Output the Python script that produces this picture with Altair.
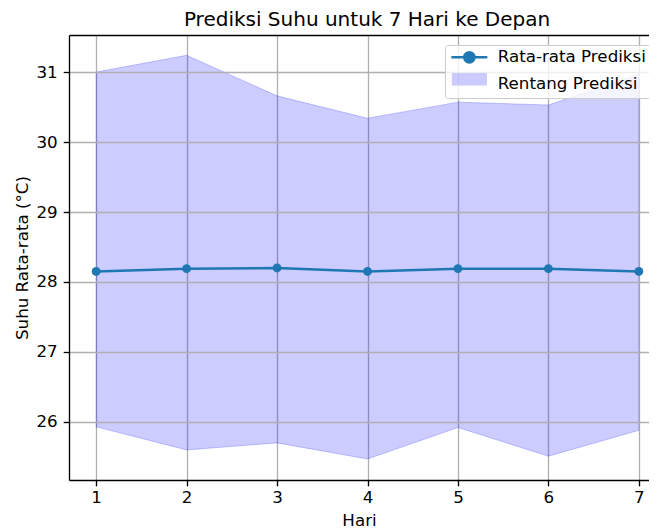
import altair as alt
import pandas as pd

hari = [1, 2, 3, 4, 5, 6, 7]
rata_rata = [28.15, 28.19, 28.20, 28.15, 28.19, 28.19, 28.15]
batas_atas = [31.00, 31.24, 30.66, 30.34, 30.57, 30.53, 30.97]
batas_bawah = [25.93, 25.60, 25.70, 25.47, 25.92, 25.51, 25.88]
nama_seri = ["Rata-rata Prediksi", "Rentang Prediksi"]

df = pd.DataFrame({"Hari": hari, "Rata": rata_rata, "Atas": batas_atas, "Bawah": batas_bawah})
df["Seri_line"] = nama_seri[0]
df["Seri_area"] = nama_seri[1]

FONT = "DejaVu Sans"
FS = 16.7
xscale = alt.Scale(domain=[0.7, 7.112], nice=False, zero=False)
yscale = alt.Scale(domain=[25.17, 31.53], nice=False, zero=False)
# line legend lists both entries (second symbol hidden in white); area legend overlays its patch
cscale = alt.Scale(domain=nama_seri, range=["#1f77b4", "#ffffff"])
fscale = alt.Scale(domain=[nama_seri[1]], range=["#0000ff"])

line_path = "M-3,0L3,0M0.85,0A0.85,0.85 0 1,1 -0.85,0A0.85,0.85 0 1,1 0.85,0Z"
rect_path = "M-2.85,-0.95L2.85,-0.95L2.85,0.95L-2.85,0.95Z"

common = dict(
    title=None, orient="none", legendX=376,
    labelFont=FONT, labelFontSize=FS, labelColor="#000000",
    symbolSize=144, symbolOffset=12, labelOffset=20, rowPadding=5.3, padding=4,
)

legend_line = alt.Legend(
    legendY=10, fillColor="rgba(255,255,255,0.8)", strokeColor="#cccccc", cornerRadius=3,
    symbolType=line_path, symbolFillColor="#1f77b4", symbolStrokeWidth=2.5, symbolOpacity=1,
    values=nama_seri, zindex=2, **common,
)
legend_area = alt.Legend(
    legendY=32, symbolType=rect_path, symbolStrokeColor="#0000ff", symbolStrokeWidth=1,
    symbolOpacity=0.2, labelExpr="''", zindex=3, **common,
)

x_axis = alt.Axis(values=hari, format="d", title="Hari")
x_top = alt.Axis(orient="top", labels=False, ticks=False, grid=False, title=None, domain=True)
y_axis = alt.Axis(values=[26, 27, 28, 29, 30, 31], format="d", title="Suhu Rata-rata (°C)", zindex=1)

area = alt.Chart(df).mark_area(fillOpacity=0.2, stroke="#0000ff", strokeOpacity=0.2, strokeWidth=1).encode(
    x=alt.X("Hari:Q", scale=xscale, axis=x_axis),
    y=alt.Y("Bawah:Q", scale=yscale, axis=y_axis),
    y2="Atas:Q",
    fill=alt.Fill("Seri_area:N", scale=fscale, legend=legend_area),
)

line = alt.Chart(df).mark_line(strokeWidth=2.5, point=alt.OverlayMarkDef(size=78, filled=True, opacity=1)).encode(
    x=alt.X("Hari:Q", scale=xscale, axis=x_top),
    y=alt.Y("Rata:Q", scale=yscale),
    color=alt.Color("Seri_line:N", scale=cscale, legend=legend_line),
)

chart = alt.layer(area, line).resolve_axis(x="independent").properties(
    width=580, height=445,
    title=alt.Title("Prediksi Suhu untuk 7 Hari ke Depan", font=FONT, fontSize=20,
                    fontWeight="normal", color="#000000", offset=5, dx=8),
    autosize=alt.AutoSizeParams(type="none"),
    padding={"left": 61, "top": 27, "right": 0, "bottom": 50},
).configure_view(
    stroke=None,
).configure_axis(
    labelFont=FONT, labelFontSize=FS, labelColor="#000000",
    titleFont=FONT, titleFontSize=FS, titleFontWeight="normal", titleColor="#000000",
    grid=True, gridColor="#b0b0b0", gridWidth=1.33, gridOpacity=1,
    domainColor="#000000", domainWidth=1.33,
    tickColor="#000000", tickWidth=1.33, tickSize=5.8, labelPadding=4,
).configure_axisY(titlePadding=4, labelPadding=6).configure_axisX(titlePadding=6)

chart.save("out.html", embed_options={"renderer": "svg", "actions": False})
